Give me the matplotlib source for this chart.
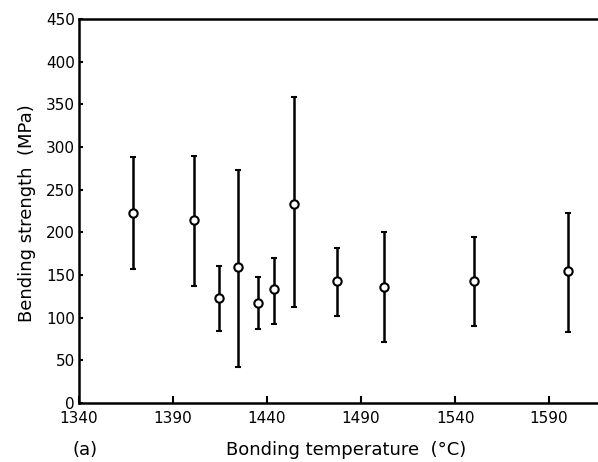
import numpy as np
import matplotlib.pyplot as plt

# bonding temperature (C) and bending strength (MPa)
temp = [1369, 1401, 1414.5, 1424.5, 1435, 1443.5, 1454.5, 1477, 1502, 1550, 1600]
strength = [222, 214, 123, 159, 117, 133, 233, 143, 136, 143, 154]
upper = [288, 289, 161, 273, 148, 170, 358, 181, 200, 194, 223]
lower = [157, 137, 84, 42, 86, 93, 112, 102, 71, 90, 83]

xticks = [1340, 1390, 1440, 1490, 1540, 1590]
yticks = [0, 50, 100, 150, 200, 250, 300, 350, 400, 450]

fig = plt.figure(figsize=(5.98, 4.62), dpi=100)
ax = fig.add_axes([0.132, 0.128, 0.868, 0.831])

s = np.array(strength)
yerr = [s - np.array(lower), np.array(upper) - s]
ax.errorbar(temp, strength, yerr=yerr, fmt='o', color='black', ms=6,
            mfc='white', mec='black', mew=1.5, elinewidth=1.8, capsize=2.5, capthick=1.8)

ax.set_xlim(1340, 1616)
ax.set_ylim(0, 450)
ax.set_xticks(xticks)
ax.set_yticks(yticks)
ax.tick_params(direction='in', width=1.5, labelsize=11)
ax.tick_params(axis='x', length=5, pad=6)
ax.tick_params(axis='y', length=3, pad=3)

ax.spines['right'].set_visible(False)
for sp in ['top', 'left', 'bottom']:
    ax.spines[sp].set_linewidth(1.8)

fig.text(27 / 598, 1 - 213 / 462, 'Bending strength  (MPa)', fontsize=13,
         rotation=90, ha='center', va='center')
fig.text(0.579, 0.026, 'Bonding temperature  (°C)', fontsize=13, ha='center', va='center')
fig.text(0.122, 0.026, '(a)', fontsize=13, ha='left', va='center')

fig.savefig('out.png', dpi=100)
